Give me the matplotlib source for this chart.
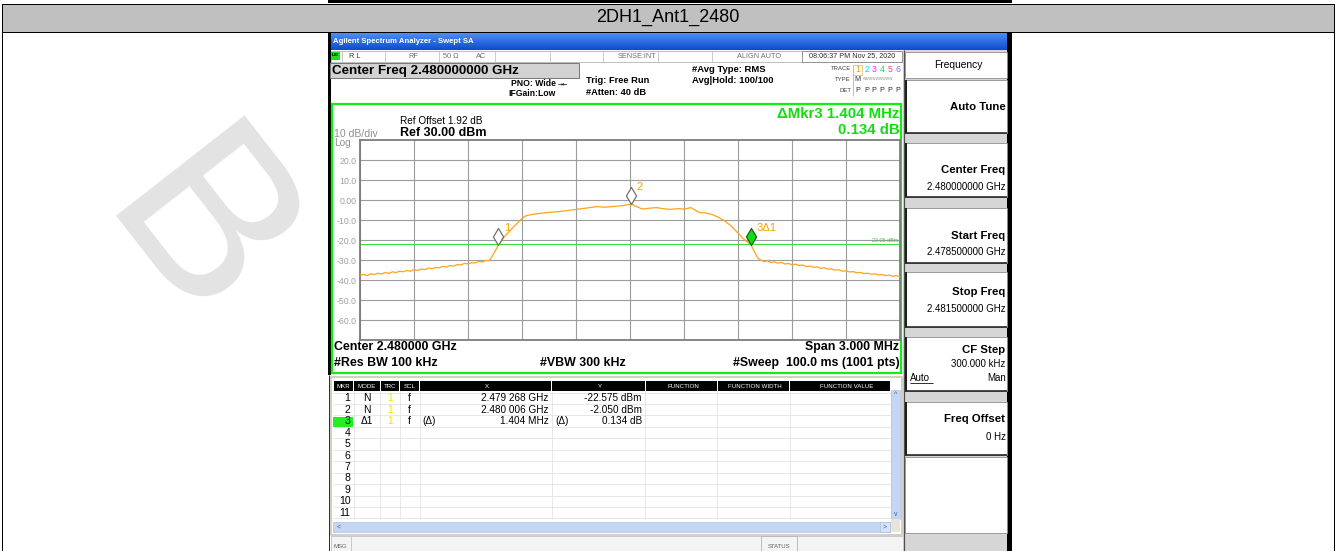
import matplotlib
matplotlib.use("Agg")
import matplotlib.pyplot as plt
from matplotlib.patches import Rectangle
from matplotlib.path import Path

# ---------------- data ----------------
start_ghz = 2.4785
stop_ghz = 2.4815
offset_mhz = [0.000, 0.020, 0.040, 0.060, 0.080, 0.100, 0.120, 0.140, 0.160, 0.180,
              0.200, 0.220, 0.240, 0.260, 0.280, 0.300, 0.320, 0.340, 0.360, 0.380,
              0.400, 0.420, 0.440, 0.460, 0.480, 0.500, 0.520, 0.540, 0.560, 0.580,
              0.600, 0.620, 0.640, 0.660, 0.680, 0.700, 0.715, 0.725, 0.745, 0.768,
              0.800, 0.832, 0.860, 0.881, 0.900, 0.919, 0.950, 0.987, 1.040, 1.103,
              1.150, 1.200, 1.260, 1.316, 1.360, 1.413, 1.460, 1.506, 1.540, 1.568,
              1.610, 1.645, 1.690, 1.723, 1.770, 1.800, 1.839, 1.870, 1.887, 1.920,
              1.955, 1.990, 2.023, 2.060, 2.090, 2.125, 2.172, 2.195, 2.210, 2.226,
              2.245, 2.265, 2.285, 2.303, 2.320, 2.340, 2.360, 2.380, 2.400, 2.420,
              2.440, 2.460, 2.480, 2.500, 2.520, 2.540, 2.560, 2.580, 2.600, 2.620,
              2.640, 2.660, 2.680, 2.700, 2.720, 2.740, 2.760, 2.780, 2.800, 2.820,
              2.840, 2.860, 2.880, 2.900, 2.920, 2.940, 2.960, 2.980, 3.000]
level_dbm = [-37.6, -37.2, -37.8, -36.9, -37.3, -36.6, -37.0, -36.2, -36.7, -35.9,
             -36.3, -35.6, -35.9, -35.2, -35.6, -34.9, -35.2, -34.5, -34.8, -34.0,
             -34.4, -33.7, -33.9, -33.2, -33.5, -32.8, -33.0, -32.3, -32.5, -31.7,
             -32.0, -31.3, -31.5, -30.7, -31.0, -30.2, -30.4, -29.5, -26.5, -22.6,
             -18.5, -15.5, -12.8, -11.0, -9.2, -8.0, -7.3, -6.8, -6.3, -5.8,
             -5.3, -4.7, -4.0, -3.3, -3.6, -3.2, -2.8, -2.05, -3.4, -4.5,
             -4.1, -3.8, -4.4, -4.7, -4.3, -4.6, -3.8, -5.5, -6.3, -6.5,
             -7.2, -8.6, -10.3, -12.8, -15.6, -19.0, -22.4, -26.5, -29.0, -30.0,
             -30.8, -30.4, -31.3, -30.9, -31.6, -31.2, -32.0, -31.7, -32.4, -32.1,
             -32.8, -32.5, -33.3, -33.0, -33.7, -33.4, -34.2, -33.9, -34.6, -34.4,
             -35.1, -34.9, -35.6, -35.4, -36.0, -35.8, -36.4, -36.2, -36.8, -36.6,
             -37.1, -36.9, -37.5, -37.3, -37.8, -37.5, -38.1, -37.8, -38.4]
marker_ghz = [2.479268, 2.480006, 2.480672]
marker_dbm = [-22.575, -2.050, -22.441]
marker_labels = ['1', '2', '3\u03941']
display_line_dbm = -22.05
y_tick_values = [20, 10, 0, -10, -20, -30, -40, -50, -60]
y_tick_labels = ['20.0', '10.0', '0.00', '-10.0', '-20.0', '-30.0', '-40.0', '-50.0', '-60.0']

table_mkr = [str(i) for i in range(1, 12)]
table_mode = ['N', 'N', '\u03941']
table_trc = ['1', '1', '1']
table_scl = ['f', 'f', 'f']
table_xpre = ['', '', '(\u0394)']
table_x = ['2.479 268 GHz', '2.480 006 GHz', '1.404 MHz']
table_ypre = ['', '', '(\u0394)']
table_y = ['-22.575 dBm', '-2.050 dBm', '0.134 dB']

title = '2DH1_Ant1_2480'

# ---------------- figure ----------------
W, H = 1336, 551
plt.rcParams['font.family'] = ['Liberation Sans', 'DejaVu Sans']
fig = plt.figure(figsize=(W / 100, H / 100), dpi=100)
bg = fig.add_axes([0, 0, 1, 1])
bg.set_xlim(0, W)
bg.set_ylim(H, 0)
bg.axis('off')
PX = 0.72


def rect(x0, y0, x1, y1, fc='none', ec='none', lw=0.0, z=2):
    bg.add_patch(Rectangle((x0, y0), x1 - x0, y1 - y0, facecolor=fc, edgecolor=ec,
                           linewidth=lw * PX, zorder=z))


def hl(y, x0, x1, c, lw=1.0, z=3):
    bg.plot([x0, x1], [y, y], color=c, lw=lw * PX, zorder=z, solid_capstyle='butt')


def vl(x, y0, y1, c, lw=1.0, z=3):
    bg.plot([x, x], [y0, y1], color=c, lw=lw * PX, zorder=z, solid_capstyle='butt')


def tx(x, y, s, size, ha='left', c='black', w='normal', z=6, **kw):
    bg.text(x, y, s, fontsize=size, ha=ha, va='center', color=c, fontweight=w, zorder=z, **kw)


# document frame
rect(328, 0, 1012, 3, fc='black', z=3)
rect(2, 3.5, 1334, 31.5, fc='#c0c0c0', ec='black', lw=1, z=3)
tx(668, 17.5, title, 13, ha='center', family=['Liberation Sans Narrow', 'Liberation Sans'], z=4)
vl(2, 31.5, 551, 'black', 1)
vl(1334, 31.5, 551, 'black', 1)

# watermark
bg.text(192, 240, 'B', fontsize=170, color='#e3e3e3', rotation=-52, ha='center', va='center', zorder=0.5)

# ---------------- screenshot ----------------
rect(328, 32, 1012, 551, fc='white', z=1)
rect(328, 32, 331, 375, fc='black', z=3)
vl(328.5, 375, 551, '#303030', 1)
rect(1007, 32, 1012, 551, fc='black', z=3)

# title bar gradient
n = 17
for i in range(n):
    t = i / (n - 1)
    top = (0.30, 0.55, 0.95)
    bot = (0.05, 0.30, 0.80)
    col = tuple(top[k] + (bot[k] - top[k]) * t for k in range(3))
    rect(331, 33 + i, 1007, 34 + i, fc=col, z=3)
tx(333, 41.5, 'Agilent Spectrum Analyzer - Swept SA', 5.6, c='white', w='bold')

# status row
rect(331, 50.5, 903, 62, fc='white', ec='#b0b0b0', lw=0.8, z=3)
for xs in [342, 385, 439, 495, 550, 603, 658, 711.7]:
    vl(xs, 50.5, 62, '#c0c0c0', 0.8)
rect(802, 51, 902, 61.5, fc='white', ec='#808080', lw=0.8, z=3)
rect(330.5, 51.5, 339.5, 59.5, fc='#22dd22', z=4)
tx(335, 55.5, 'LXI', 3.2, ha='center', w='bold')
gcol = '#707070'
tx(349, 56, 'R L', 5.3, c='#404040')
tx(413, 56, 'RF', 5.3, ha='center', c=gcol)
tx(443, 56, '50 \u03a9', 5.3, c=gcol)
tx(476, 56, 'AC', 5.3, c=gcol)
tx(656, 56, 'SENSE:INT', 5.3, ha='right', c=gcol)
tx(759, 56, 'ALIGN AUTO', 5.3, ha='center', c=gcol)
tx(852, 56, '08:06:37 PM Nov 25, 2020', 5.2, ha='center', c='#303030')

# header
rect(330, 63, 579, 78, fc='#d2d2d2', ec='#7a7a7a', lw=1, z=3)
tx(332, 70.8, 'Center Freq 2.480000000 GHz', 9.6, w='bold')
tx(556, 84, 'PNO: Wide', 6.2, ha='right', w='bold')
tx(558, 83.5, '\u2192\u2190', 4.5, c='black', family=['DejaVu Sans'])
tx(556, 93.5, 'IFGain:Low', 6.2, ha='right', w='bold')
tx(586, 80.7, 'Trig: Free Run', 6.7, w='bold')
tx(586, 92.7, '#Atten: 40 dB', 6.7, w='bold')
tx(692, 69, '#Avg Type: RMS', 6.8, w='bold')
tx(692, 80.7, 'Avg|Hold: 100/100', 6.8, w='bold')
tx(851, 69, 'TRACE', 4.3, ha='right', c='#404040')
tx(851, 79.3, 'TYPE', 4.3, ha='right', c='#404040')
tx(851, 90, 'DET', 4.3, ha='right', c='#404040')
vl(853, 65, 96, '#b0b0b0', 0.8)
rect(853, 65, 862, 74.5, fc='none', ec='#e0c060', lw=0.8, z=4)
trace_x = [857.7, 866.7, 874.3, 882, 890, 898.3]
trace_c = ['#f0a000', '#20c8f0', '#ff20ff', '#30d030', '#ff4070', '#8070ff']
for i in range(6):
    tx(trace_x[i], 69.5, str(i + 1), 6.3, ha='center', c=trace_c[i])
    tx(trace_x[i], 90, 'P', 5.2, ha='center', c='#303030')
tx(857.7, 79.5, 'M', 5.2, ha='center', c='#303030')
tx(862.5, 79.5, 'WWWWWWWWW', 2.6, c='#909090')

# green frame
rect(332, 104, 901, 373, fc='none', ec='#11ee11', lw=2.2, z=4)
tx(400, 120.7, 'Ref Offset 1.92 dB', 7.2)
tx(400, 133.5, 'Ref 30.00 dBm', 9.0, w='bold')
tx(334, 133.8, '10 dB/div', 7.6, c='#909090')
tx(334, 143.5, 'Log', 7.2, c='#909090')
tx(899.5, 114, '\u0394Mkr3 1.404 MHz', 10.8, ha='right', c='#11dd11', w='bold')
tx(899.5, 129.5, '0.134 dB', 10.8, ha='right', c='#11dd11', w='bold')
tx(334, 347.3, 'Center 2.480000 GHz', 8.9, w='bold')
tx(334, 362.7, '#Res BW 100 kHz', 8.9, w='bold')
tx(540, 362.7, '#VBW 300 kHz', 8.9, w='bold')
tx(899.5, 347.3, 'Span 3.000 MHz', 8.9, ha='right', w='bold')
tx(899.5, 362.7, '#Sweep  100.0 ms (1001 pts)', 8.9, ha='right', w='bold')

# ---------------- marker table ----------------
rect(331, 376.5, 902, 535, fc='white', ec='#c8c0b0', lw=1.5, z=3)
cols = [333, 353.5, 380, 399.5, 419.5, 551.5, 645, 717, 789.5, 890.5]
for i in range(len(cols) - 1):
    rect(cols[i] + 0.5, 381, cols[i + 1] - 0.5, 391, fc='black', z=4)
heads = [('MKR', 343.2, 'center'), ('MODE', 366.7, 'center'), ('TRC', 389.7, 'center'),
         ('SCL', 409.5, 'center'), ('X', 487, 'center'), ('Y', 600, 'center'),
         ('FUNCTION', 683, 'center'), ('FUNCTION WIDTH', 755, 'center'),
         ('FUNCTION VALUE', 847, 'center')]
for s, x, ha in heads:
    tx(x, 386.2, s, 4.4, ha=ha, c='white')
row_y0 = 392.6
row_h = 11.44
for k in range(12):
    hl(row_y0 + k * row_h, 333, 890.5, '#e2e2e2', 0.8, z=4)
for xc in cols[1:]:
    vl(xc, 391, 519, '#e2e2e2', 0.8, z=4)
rect(333, 416.7, 352.5, 426.7, fc='#22ee22', z=4)
for i, s in enumerate(table_mkr):
    yc = row_y0 + (i + 0.5) * row_h
    tx(350.5, yc, s, 7.6, ha='right', w='normal')
for i in range(3):
    yc = row_y0 + (i + 0.5) * row_h
    tx(366.7, yc, table_mode[i], 7.4, ha='center')
    tx(389.7, yc, table_trc[i], 7.4, ha='center', c='#f0e000')
    tx(409, yc, table_scl[i], 7.4, ha='center')
    tx(422, yc, table_xpre[i], 7.2)
    tx(548.7, yc, table_x[i], 7.2, ha='right')
    tx(555.5, yc, table_ypre[i], 7.2)
    tx(642, yc, table_y[i], 7.2, ha='right')
# scrollbars
rect(333, 521.5, 890, 532, fc='#c4d6f6', ec='#a8bce0', lw=0.6, z=4)
tx(337, 526.7, '<', 5, c='#4060a0')
rect(880, 522, 890, 531.5, fc='#d6e2f8', ec='#a8bce0', lw=0.6, z=5)
tx(885, 526.7, '>', 5, ha='center', c='#4060a0')
rect(891, 390, 900, 519, fc='#c4d6f6', ec='#a8bce0', lw=0.6, z=4)
tx(895.5, 394, '^', 5, ha='center', c='#4060a0')
tx(895.5, 514, 'v', 5, ha='center', c='#4060a0')
rect(891, 519, 900, 532, fc='#e8e4dc', z=4)

# status bar
rect(331, 536, 903, 551, fc='#f4f4f4', ec='#c0c0c0', lw=0.8, z=3)
vl(351, 536, 551, '#c0c0c0', 0.8, z=4)
tx(333, 546, 'MSG', 4.3, c='#606060')
rect(761, 536, 797, 551, fc='#f4f4f4', ec='#b0b0b0', lw=0.8, z=4)
tx(779, 546, 'STATUS', 4.3, ha='center', c='#606060')

# ---------------- softkey panel ----------------
rect(903, 50, 1007, 551, fc='#d6d6d6', z=3)
vl(904, 50, 551, '#505050', 1.2, z=4)


def key(y0, y1):
    rect(905, y0, 1006.5, y1, fc='white', ec='#8a8a8a', lw=0.8, z=4)
    vl(905.5, y0, y1, '#202020', 2.0, z=5)
    hl(y1, 905, 1006.5, '#202020', 1.6, z=5)


rect(905, 52, 1006.5, 78.3, fc='white', ec='#8a8a8a', lw=0.8, z=4)
tx(958, 64.8, 'Frequency', 7.4, ha='center')
key(79.5, 133.3)
tx(1005.5, 106.7, 'Auto Tune', 8.2, ha='right', w='bold')
key(143.3, 196.7)
tx(1005.5, 170, 'Center Freq', 8.2, ha='right', w='bold')
tx(1005.5, 186.7, '2.480000000 GHz', 7.0, ha='right')
key(208.3, 263.3)
tx(1005.5, 235.7, 'Start Freq', 8.2, ha='right', w='bold')
tx(1005.5, 251.7, '2.478500000 GHz', 7.0, ha='right')
key(272, 326.7)
tx(1005.5, 291.7, 'Stop Freq', 8.2, ha='right', w='bold')
tx(1005.5, 309.3, '2.481500000 GHz', 7.0, ha='right')
key(336.7, 390.7)
tx(1005.5, 350, 'CF Step', 8.2, ha='right', w='bold')
tx(1005.5, 364.3, '300.000 kHz', 7.0, ha='right')
tx(910, 378.3, 'Auto', 7.0)
hl(383, 910, 932.5, 'black', 0.8, z=6)
tx(1005.5, 378.3, 'Man', 7.0, ha='right')
key(401.7, 455)
tx(1005.5, 419.3, 'Freq Offset', 8.2, ha='right', w='bold')
tx(1005.5, 436.7, '0 Hz', 7.0, ha='right')
rect(905, 457, 1006.5, 533, fc='white', ec='#8a8a8a', lw=0.8, z=4)

# ---------------- spectrum graticule ----------------
ax = fig.add_axes([360 / W, (H - 340) / H, 540 / W, 200 / H])
ax.set_zorder(5)
ax.set_facecolor('white')
ax.set_xlim(start_ghz, stop_ghz)
ax.set_ylim(-70, 30)
span = stop_ghz - start_ghz
ax.set_xticks([start_ghz + span * i / 10 for i in range(11)])
ax.set_yticks(y_tick_values, y_tick_labels)
ax.tick_params(length=0, labelbottom=False, pad=2.6, labelsize=6.3, labelcolor='#a0a0a0')
ax.grid(True, color='#9c9c9c', lw=0.8)
for sp in ax.spines.values():
    sp.set_color('#7c7c7c')
    sp.set_linewidth(1.3)

freqs = [start_ghz + o / 1000 for o in offset_mhz]
ax.plot(freqs, level_dbm, color='#ffa31a', lw=0.9, zorder=3)
ax.axhline(display_line_dbm, color='#33e033', lw=0.7, zorder=2.5)
ax.annotate('-22.05 dBm', (stop_ghz, display_line_dbm), xytext=(-1, 0.5), textcoords='offset points',
            ha='right', va='bottom', fontsize=4, color='#40c040')

diamond = Path([(0, 0), (-0.3, 0.5), (0, 1), (0.3, 0.5), (0, 0)],
               [Path.MOVETO, Path.LINETO, Path.LINETO, Path.LINETO, Path.CLOSEPOLY])
fills = ['white', 'white', '#11dd11']
edges = ['#707070', '#707070', '#206020']
for i in range(3):
    ax.plot([marker_ghz[i]], [marker_dbm[i]], marker=diamond, ms=24.5, mfc=fills[i],
            mec=edges[i], mew=0.9, ls='none', zorder=6, clip_on=False)
    ax.annotate(marker_labels[i], (marker_ghz[i], marker_dbm[i]), xytext=(4, 12.5),
                textcoords='offset points', ha='left', va='center', fontsize=8, color='#f5a000',
                zorder=7)

fig.savefig('out.png', dpi=100)
